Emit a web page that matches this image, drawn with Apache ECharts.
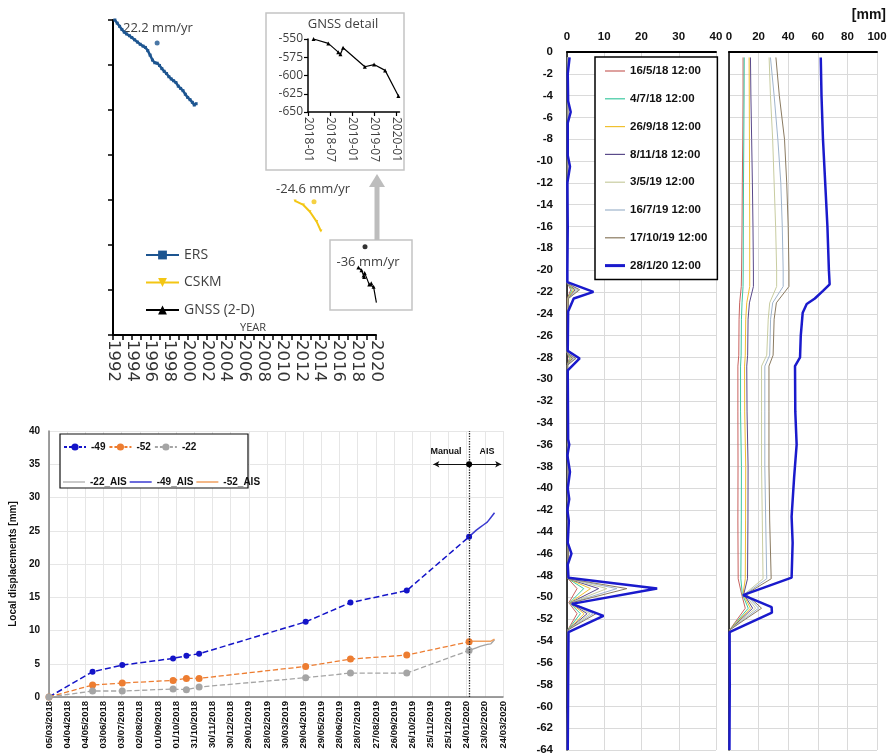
<!DOCTYPE html>
<html><head><meta charset="utf-8">
<script src="https://cdn.jsdelivr.net/npm/echarts@6/dist/echarts.min.js"></script>
<style>html,body{margin:0;padding:0;background:#fff}#c{width:889px;height:756px}</style>
</head><body><div id="c"></div>
<script>
// ---------- Panel A : long-term displacement ----------
const ersYears = [1992.2,1992.45,1992.7,1992.95,1993.2,1993.45,1993.75,1994.0,1994.3,1994.6,1994.9,1995.2,1995.45,1995.7,1995.95,1996.2,1996.45,1996.7,1996.95,1997.2,1997.45,1997.7,1997.95,1998.2,1998.45,1998.7,1998.95,1999.2,1999.45,1999.7,1999.95,2000.2,2000.45,2000.65,2000.85];
const ersVals  = [0,-7,-14,-21,-27,-31,-35,-39,-44,-49,-54,-58,-61,-68,-78,-89,-95,-96,-101,-108,-114,-119,-126,-131,-135,-139,-147,-152,-157,-165,-172,-177,-183,-189,-186];
const cskmYears = [2011.38,2012.27,2012.97,2013.68,2014.14];
const cskmVals  = [-402,-411,-426,-448,-469];
const gnssMonths = [1.5,5.5,8.2,8.8,9.5,15.4,17.9,20.9,24.5]; // months after 2018-01
const gnssVals   = [-550,-556,-568,-571,-562,-588,-585,-593,-628];
const rateDotYears = [1996.7,2013.4,2018.83];
const rateDotVals  = [-51,-404,-504];
const yearTicks = {min:1992, max:2020};

// ---------- Panel B : local displacements ----------
const manualDates = ['05/03/2018','16/05/2018','04/07/2018','26/09/2018','18/10/2018','08/11/2018','03/05/2019','16/07/2019','17/10/2019','28/01/2020'];
const s49 = [0,3.8,4.8,5.8,6.2,6.5,11.3,14.2,16.0,24.1];
const s52 = [0,1.8,2.1,2.5,2.8,2.8,4.6,5.7,6.3,8.3];
const s22 = [0,0.9,0.9,1.2,1.1,1.5,2.9,3.6,3.6,7.0];
const aisDates = ['28/01/2020','03/02/2020','09/02/2020','15/02/2020','21/02/2020','27/02/2020','04/03/2020','10/03/2020'];
const ais49 = [24.1,24.6,25.1,25.5,25.9,26.3,27.0,27.7];
const ais52 = [8.3,8.4,8.4,8.4,8.4,8.4,8.4,8.7];
const ais22 = [7.0,7.2,7.4,7.6,7.75,7.9,8.0,8.6];
const switchDate = '28/01/2020';
const arrowFrom = '30/11/2019', arrowTo = '21/03/2020', arrowLevel = 35;

// ---------- Panel C : inclinometer profiles ----------
const profileNames = ['16/5/18 12:00','4/7/18 12:00','26/9/18 12:00','8/11/18 12:00','3/5/19 12:00','16/7/19 12:00','17/10/19 12:00','28/1/20 12:00'];
const incDepthsThin = [-0.5,-21.2,-21.8,-22.6,-27.6,-28.1,-28.7,-48.3,-49.2,-50.5,-51.5,-53,-64];
const inc160518 = [0.1,0.1,1.0,0.1,0.1,0.6,0.1,0.3,2.7,0.5,2.7,0.2,0.1];
const inc040718 = [0.1,0.1,1.4,0.2,0.1,0.9,0.1,0.3,4.5,0.7,3.6,0.2,0.1];
const inc260918 = [0.2,0.1,1.8,0.2,0.1,1.2,0.1,0.3,6.3,0.8,4.6,0.2,0.1];
const inc081118 = [0.2,0.1,2.2,0.3,0.1,1.5,0.1,0.3,8.5,0.9,5.4,0.2,0.1];
const inc030519 = [0.2,0.1,2.6,0.3,0.1,1.8,0.2,0.4,10.7,1.0,6.2,0.2,0.1];
const inc160719 = [0.2,0.1,3.0,0.4,0.1,2.1,0.2,0.4,13.4,1.1,7.0,0.2,0.1];
const inc171019 = [0.3,0.1,3.4,0.4,0.1,2.4,0.2,0.4,16.1,1.2,7.8,0.2,0.1];
const incDepthsBlue = [-0.5,-2,-4.5,-5.5,-6.5,-9.5,-10.5,-12,-16,-20,-21.1,-22.0,-22.6,-23.8,-27.4,-28.1,-29.2,-35.5,-36,-37,-38.5,-40,-41,-42,-43,-45,-46,-47,-48.2,-49.2,-50.6,-51.7,-53.2,-58,-64];
const inc280120 = [0.7,0.2,0.3,1.0,0.2,0.2,0.8,0.1,0.2,0.1,0.1,7.1,1.8,0.3,0.2,3.4,0.2,0.3,0.6,0.1,0.8,0.2,0.6,0.1,0.5,0.2,1.2,0.2,0.4,24.2,1.3,9.8,0.4,0.3,0.2];

const cumDepthsThin = [-0.5,-4,-8,-12,-16,-20,-21.5,-23,-24.5,-27.8,-28.8,-33,-38,-43,-48.3,-49.7,-51,-53,-64];
const cum160518 = [9.5,9.5,9.3,9.0,8.8,8.5,8.3,7.2,6.8,6.6,6.0,6.0,6.1,6.0,6.2,8.5,11,0.4,0.3];
const cum040718 = [10.3,10.2,10.0,9.8,9.7,9.6,9.5,8.8,8.4,8.2,7.8,7.8,8.4,8.3,8.0,9.0,13,0.4,0.3];
const cum260918 = [13.6,13.7,13.8,13.9,14.0,14.0,14.0,12.0,11.3,11.0,10.5,10.6,11.3,11.2,11.0,9.5,14.5,0.4,0.3];
const cum081118 = [14.5,14.8,15.3,15.8,16.2,16.5,16.5,13.8,12.9,12.6,12.0,12.2,12.9,12.8,12.5,10,16,0.4,0.3];
const cum030519 = [27.1,28,29.5,30.5,31.5,32.2,32.2,27.5,26.5,25.5,22.0,22.0,22.0,22.5,23.0,10.5,18,0.4,0.3];
const cum160719 = [28,30.5,33,35,36,36.6,36.6,29.5,28.1,27.5,24.2,24.2,24.2,24.8,25.5,11,20,0.4,0.3];
const cum171019 = [31.7,34,37.5,39,40,40.5,40.5,32,30.5,29.8,27,27,27,27.5,28.5,11.5,22,0.4,0.3];
const cumDepthsBlue = [-0.5,-4,-8,-12,-16,-20,-21.3,-21.9,-22.6,-23.1,-23.9,-26,-28,-28.8,-33,-36,-39,-42.6,-45,-48.2,-49.8,-50.9,-51.4,-53.2,-58,-64];
const cum280120 = [62,62.5,63.5,65,66.5,67.5,68,63.5,58,52.5,49.8,48.5,48,44.6,44.8,45.7,44,42.3,43,42.3,9.5,28.8,29,0.4,0.5,0.3];

// ---------- styles ----------
const profileColors = ['#c8625f','#3cc8a0','#f0c030','#5a4a8a','#c8cca0','#9fb4cc','#8a7a60','#1a1acc'];
const FA = 'Open Sans, sans-serif';
const FB = 'Liberation Sans, Arial, sans-serif';
const LINE_ICON = 'path://M0,0H20V1.2H0Z';
const THICK_ICON = 'path://M0,0H20V3H0Z';

function zip(xs, ys){ return xs.map((x,i)=>[x, ys[i]]); }
const T0 = Date.UTC(2018,2,5);
function dayOf(s){ const p=s.split('/').map(Number); return Math.round((Date.UTC(p[2],p[1]-1,p[0])-T0)/86400000); }
const pad = n => String(n).padStart(2,'0');
function fmtDay(v){ const t=new Date(T0+v*86400000); return pad(t.getUTCDate())+'/'+pad(t.getUTCMonth()+1)+'/'+t.getUTCFullYear(); }
function fmtMonth(m){ const y=2018+Math.floor(m/12); return y+'-'+pad(Math.round(m)%12+1); }

const incThin = [inc160518,inc040718,inc260918,inc081118,inc030519,inc160719,inc171019];
const cumThin = [cum160518,cum040718,cum260918,cum081118,cum030519,cum160719,cum171019];

const profileSeries = [];
profileNames.forEach((name,i)=>{
  const blue = i===7;
  const inc = blue ? zip(inc280120, incDepthsBlue) : zip(incThin[i], incDepthsThin);
  const cum = blue ? zip(cum280120, cumDepthsBlue) : zip(cumThin[i], cumDepthsThin);
  const ls = {color: profileColors[i], width: blue?2.5:1};
  profileSeries.push({name, type:'line', xAxisIndex:3, yAxisIndex:3, data:inc, symbol:'none', lineStyle:ls, itemStyle:{color:profileColors[i]}, z: blue?4:2});
  profileSeries.push({name, type:'line', xAxisIndex:4, yAxisIndex:4, data:cum, symbol:'none', lineStyle:ls, itemStyle:{color:profileColors[i]}, z: blue?4:2});
});

const blackAxis = w => ({show:true, onZero:false, lineStyle:{color:'#000', width:w}});
const swDay = dayOf(switchDate);

const option = {
  animation:false,
  backgroundColor:'#fff',
  grid:[
    {left:113, top:20, width:263, height:315, outerBoundsMode:'none'},
    {left:308, top:39, width:91.5, height:73, outerBoundsMode:'none'},
    {left:49, top:431, width:454, height:266, outerBoundsMode:'none'},
    {left:567, top:52, width:149, height:698, outerBoundsMode:'none'},
    {left:729, top:52, width:148, height:698, outerBoundsMode:'none'}
  ],
  xAxis:[
    {gridIndex:0, type:'value', min:yearTicks.min, max:yearTicks.max, interval:1,
     axisLine:blackAxis(2), axisTick:{show:true, length:5, lineStyle:{color:'#000',width:1.5}},
     axisLabel:{rotate:-90, margin:5, fontFamily:'DejaVu Sans', fontSize:16.5, color:'#333', formatter:v=> (v%2===0? String(v):'')},
     splitLine:{show:false}},
    {gridIndex:1, type:'value', min:0, max:24.8, interval:6,
     axisLine:blackAxis(1.5), axisTick:{show:true, length:4, lineStyle:{color:'#000',width:1.2}},
     axisLabel:{rotate:-90, margin:5, fontFamily:FA, fontSize:12, color:'#404040', showMaxLabel:false, formatter:fmtMonth},
     splitLine:{show:false}},
    {gridIndex:2, type:'value', min:0, max:750, interval:30,
     axisLine:{show:true, onZero:false, lineStyle:{color:'#7f7f7f', width:1.5}}, axisTick:{show:false},
     axisLabel:{rotate:90, margin:4, fontFamily:FB, fontSize:9.5, fontWeight:'bold', color:'#111', formatter:fmtDay, showMaxLabel:true, showMinLabel:true},
     splitLine:{show:true, lineStyle:{color:'#e6e6e6', width:1}}},
    {gridIndex:3, type:'value', position:'top', min:0, max:40, interval:10,
     axisLine:blackAxis(2), axisTick:{show:false},
     axisLabel:{margin:9, fontFamily:FB, fontSize:11.5, fontWeight:'bold', color:'#111'},
     splitLine:{show:true, lineStyle:{color:'#dadada'}}},
    {gridIndex:4, type:'value', position:'top', min:0, max:100, interval:20,
     axisLine:blackAxis(2), axisTick:{show:false},
     axisLabel:{margin:9, fontFamily:FB, fontSize:11.5, fontWeight:'bold', color:'#111'},
     splitLine:{show:true, lineStyle:{color:'#dadada'}}}
  ],
  yAxis:[
    {gridIndex:0, type:'value', min:-700, max:0, interval:100,
     axisLine:blackAxis(2), axisTick:{show:true, length:5, lineStyle:{color:'#000',width:1.5}},
     axisLabel:{show:false}, splitLine:{show:false}},
    {gridIndex:1, type:'value', min:-650, max:-550, interval:25,
     axisLine:blackAxis(1.5), axisTick:{show:true, length:4, lineStyle:{color:'#000',width:1.2}},
     axisLabel:{margin:5, fontFamily:FA, fontSize:12, color:'#404040'}, splitLine:{show:false}},
    {gridIndex:2, type:'value', min:0, max:40, interval:5,
     axisLine:{show:true, onZero:false, lineStyle:{color:'#7f7f7f', width:1.5}}, axisTick:{show:false},
     axisLabel:{margin:9, fontFamily:FB, fontSize:10, fontWeight:'bold', color:'#111'},
     name:'Local displacements [mm]', nameLocation:'middle', nameGap:27,
     nameTextStyle:{fontFamily:FB, fontSize:10, fontWeight:'bold', color:'#111'},
     splitLine:{show:true, lineStyle:{color:'#e6e6e6'}}},
    {gridIndex:3, type:'value', min:-64, max:0, interval:2,
     axisLine:blackAxis(1.5), axisTick:{show:false},
     axisLabel:{margin:14, fontFamily:FB, fontSize:11.5, fontWeight:'bold', color:'#111'},
     splitLine:{show:true, lineStyle:{color:'#dadada'}}},
    {gridIndex:4, type:'value', min:-64, max:0, interval:2,
     axisLine:blackAxis(1.5), axisTick:{show:false}, axisLabel:{show:false},
     splitLine:{show:true, lineStyle:{color:'#dadada'}}}
  ],
  legend:[
    {data:['ERS','CSKM','GNSS (2-D)'], orient:'vertical', left:145, top:248, padding:0, itemWidth:33, itemHeight:11, itemGap:13.5,
     textStyle:{fontFamily:FA, fontSize:14, color:'#404040'}, selectedMode:false},
    {data:['-49','-52','-22'], orient:'horizontal', left:63, top:442, padding:0, itemWidth:22, itemHeight:9, itemGap:3, z:10,
     lineStyle:{type:[3,2]},
     textStyle:{fontFamily:FB, fontSize:10, fontWeight:'bold', color:'#111', width:34}, selectedMode:false},
    {data:['-22_AIS','-49_AIS','-52_AIS'].map(n=>({name:n, icon:'path://M0,0H22V1.5H0Z'})), orient:'horizontal', left:63, top:477, padding:0, itemWidth:22, itemHeight:9, itemGap:3, z:10,
     textStyle:{fontFamily:FB, fontSize:10, fontWeight:'bold', color:'#111', width:34}, selectedMode:false},
    {data:profileNames.map((n,i)=>({name:n, icon: i===7?THICK_ICON:LINE_ICON})), orient:'vertical', left:595, top:57, itemWidth:20, itemHeight:12, itemGap:15.8, z:10,
     padding:[8,10,8,10], backgroundColor:'#fff', borderColor:'#000', borderWidth:1.5,
     textStyle:{fontFamily:FB, fontSize:11.5, fontWeight:'bold', color:'#111'}, selectedMode:false}
  ],
  graphic:[
    {type:'rect', shape:{x:266,y:13,width:138,height:157}, style:{fill:null, stroke:'#c4c4c4', lineWidth:1.5}},
    {type:'rect', shape:{x:330,y:240,width:82,height:70}, style:{fill:null, stroke:'#c4c4c4', lineWidth:1.5}},
    {type:'line', shape:{x1:377,y1:240,x2:377,y2:186}, style:{stroke:'#bdbdbd', lineWidth:5}},
    {type:'polygon', shape:{points:[[369,187],[385,187],[377,174]]}, style:{fill:'#bdbdbd'}},
    {type:'text', x:123, y:28, style:{text:'22.2 mm/yr', font:'13px '+FA, fill:'#404040', verticalAlign:'middle'}},
    {type:'text', x:313, y:189, style:{text:'-24.6 mm/yr', font:'13px '+FA, fill:'#404040', align:'center', verticalAlign:'middle'}},
    {type:'text', x:368, y:262, style:{text:'-36 mm/yr', font:'13px '+FA, fill:'#404040', align:'center', verticalAlign:'middle'}},
    {type:'text', x:253, y:328, style:{text:'YEAR', font:'11px '+FA, fill:'#404040', align:'center', verticalAlign:'middle'}},
    {type:'text', x:343, y:24, style:{text:'GNSS detail', font:'13px '+FA, fill:'#404040', align:'center', verticalAlign:'middle'}},
    {type:'text', x:886, y:15, style:{text:'[mm]', font:'bold 14px '+FB, fill:'#111', align:'right', verticalAlign:'middle'}},
    {type:'rect', z:5, shape:{x:60,y:434,width:188,height:54}, style:{fill:'#fff', stroke:'#111', lineWidth:1.2}},
    {type:'text', x:446, y:452, style:{text:'Manual', font:'bold 9px '+FB, fill:'#111', align:'center', verticalAlign:'middle'}},
    {type:'text', x:487, y:452, style:{text:'AIS', font:'bold 9px '+FB, fill:'#111', align:'center', verticalAlign:'middle'}}
  ],
  series:[
    {name:'ERS', type:'line', xAxisIndex:0, yAxisIndex:0, data:zip(ersYears, ersVals), symbol:'rect', symbolSize:3,
     lineStyle:{color:'#1d5590', width:2.5}, itemStyle:{color:'#1d5590'}},
    {name:'CSKM', type:'line', xAxisIndex:0, yAxisIndex:0, data:zip(cskmYears, cskmVals), symbol:'path://M0,0L10,0L5,9Z', symbolSize:3,
     lineStyle:{color:'#f3c614', width:2}, itemStyle:{color:'#f3c614'}},
    {name:'GNSS (2-D)', type:'line', xAxisIndex:0, yAxisIndex:0, data:zip(gnssMonths.map(m=>2018+m/12), gnssVals), symbol:'triangle', symbolSize:4,
     lineStyle:{color:'#000', width:1.2}, itemStyle:{color:'#000'}},
    {name:'rate', type:'scatter', xAxisIndex:0, yAxisIndex:0, symbolSize:5,
     data:zip(rateDotYears, rateDotVals).map((d,i)=>({value:d, itemStyle:{color:['#1d5590','#f3c614','#000'][i]}}))},
    {name:'GNSS detail', type:'line', xAxisIndex:1, yAxisIndex:1, data:zip(gnssMonths, gnssVals), symbol:'triangle', symbolSize:4,
     lineStyle:{color:'#000', width:1.2}, itemStyle:{color:'#000'}},

    {name:'-49', type:'line', xAxisIndex:2, yAxisIndex:2, data:zip(manualDates.map(dayOf), s49), symbol:'circle', symbolSize:6,
     lineStyle:{color:'#1414c8', width:1.5, type:'dashed'}, itemStyle:{color:'#1414c8'},
     markLine:{silent:true, symbol:'none', label:{show:false}, lineStyle:{color:'#222', width:1.3, type:'dotted'},
       data:[[{coord:[swDay,0]},{coord:[swDay,40]}]]}},
    {name:'-52', type:'line', xAxisIndex:2, yAxisIndex:2, data:zip(manualDates.map(dayOf), s52), symbol:'circle', symbolSize:7,
     lineStyle:{color:'#ed7d31', width:1.3, type:'dashed'}, itemStyle:{color:'#ed7d31'},
     markLine:{silent:true, symbol:['arrow','arrow'], symbolSize:[5,6], label:{show:false}, lineStyle:{color:'#111', width:1, type:'solid'},
       data:[[{coord:[dayOf(arrowFrom),arrowLevel]},{coord:[dayOf(arrowTo),arrowLevel]}]]}},
    {name:'-22', type:'line', xAxisIndex:2, yAxisIndex:2, data:zip(manualDates.map(dayOf), s22), symbol:'circle', symbolSize:7,
     lineStyle:{color:'#a5a5a5', width:1.3, type:'dashed'}, itemStyle:{color:'#a5a5a5'},
     markPoint:{silent:true, symbol:'circle', symbolSize:6, label:{show:false}, itemStyle:{color:'#000'},
       data:[{coord:[swDay, arrowLevel]}]}},
    {name:'-22_AIS', type:'line', xAxisIndex:2, yAxisIndex:2, data:zip(aisDates.map(dayOf), ais22), symbol:'none',
     lineStyle:{color:'#a5a5a5', width:1.3}, itemStyle:{color:'#b8b8b8'}},
    {name:'-49_AIS', type:'line', xAxisIndex:2, yAxisIndex:2, data:zip(aisDates.map(dayOf), ais49), symbol:'none',
     lineStyle:{color:'#3a3ad0', width:1.5}, itemStyle:{color:'#3a3ad0'}},
    {name:'-52_AIS', type:'line', xAxisIndex:2, yAxisIndex:2, data:zip(aisDates.map(dayOf), ais52), symbol:'none',
     lineStyle:{color:'#f0a060', width:1.5}, itemStyle:{color:'#f0a060'}}
  ].concat(profileSeries)
};
const chart = echarts.init(document.getElementById('c'));
chart.setOption(option);
</script></body></html>
